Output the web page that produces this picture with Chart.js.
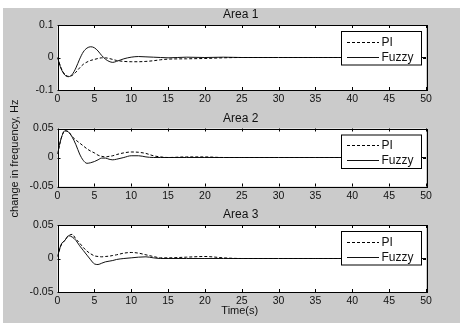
<!DOCTYPE html>
<html><head><meta charset="utf-8">
<script src="https://cdn.jsdelivr.net/npm/chart.js@4"></script>
<style>
html,body{margin:0;padding:0;background:#fff;}
#wrap{position:relative;width:460px;height:323px;overflow:hidden;}
#bg{position:absolute;left:3px;top:8px;right:0;bottom:0;background:#cbcbcb;}
canvas{position:absolute;left:0;top:0;}
</style></head><body>
<div id="wrap"><div id="bg"></div>
<canvas id="c1" width="460" height="323"></canvas>
<canvas id="c2" width="460" height="323"></canvas>
<canvas id="c3" width="460" height="323"></canvas>
</div>
<script>
// ---- data ----
const timeS = [0,0.5,1,1.5,2,2.5,3,3.5,4,4.5,5,5.5,6,6.5,7,7.5,8,9,10,11,12,13,14,15,17.5,20,22.5,25,30,35,40,45,50];
const area1PI    = [0,-0.033,-0.052,-0.058,-0.055,-0.045,-0.032,-0.021,-0.014,-0.009,-0.006,-0.003,-0.001,-0.001,-0.003,-0.006,-0.009,-0.012,-0.013,-0.013,-0.012,-0.010,-0.007,-0.005,-0.004,-0.003,-0.001,0,0,0,0,0,0];
const area1Fuzzy = [0,-0.035,-0.054,-0.059,-0.052,-0.032,-0.005,0.017,0.029,0.033,0.030,0.020,0.006,-0.005,-0.012,-0.015,-0.012,-0.004,0.001,0.003,0.002,0.001,0,-0.001,0.001,0,0.001,0,0,0,0,0,0];
const area2PI    = [0.006,0.033,0.046,0.044,0.036,0.030,0.025,0.020,0.015,0.011,0.008,0.004,0.002,0.001,0.002,0.003,0.005,0.008,0.0095,0.009,0.007,0.003,0.001,0,0.001,0.001,0,0,0,0,0,0,0];
const area2Fuzzy = [0.006,0.033,0.046,0.044,0.035,0.022,0.006,-0.005,-0.010,-0.009,-0.007,-0.004,-0.001,-0.001,-0.003,-0.004,-0.003,0,0.003,0.003,0.001,0,0,0,0,0,0,0,0,0,0,0,0];
const area3PI    = [0.003,0.020,0.027,0.034,0.036,0.029,0.023,0.0165,0.011,0.007,0.004,0.003,0.0025,0.003,0.0035,0.0045,0.0055,0.008,0.009,0.008,0.0055,0.003,0.001,0.001,0.002,0.003,0.001,0,0,0,0,0,0];
const area3Fuzzy = [0.003,0.021,0.027,0.034,0.032,0.027,0.019,0.012,0.005,-0.002,-0.008,-0.009,-0.007,-0.005,-0.004,-0.003,-0.0015,0,0.001,0.002,0.0025,0.001,0,0,0,0,0,0,0,0,0,0,0];
const xTicks = [0,5,10,15,20,25,30,35,40,45,50];
const yTicksArea1 = [-0.1,0,0.1];
const yTicksArea23 = [-0.05,0,0.05];
const areaTitles = ['Area 1','Area 2','Area 3'];
const seriesNames = ['PI','Fuzzy'];
const yAxisLabel = 'change in frequency, Hz';
const xAxisLabel = 'Time(s)';

const FONT = '"Liberation Sans", Arial, sans-serif';
const TEXT = '#111';
const panels = [
  {id:'c1', pi:area1PI, fz:area1Fuzzy, yt:yTicksArea1, top:25, bottom:90},
  {id:'c2', pi:area2PI, fz:area2Fuzzy, yt:yTicksArea23, top:128.5, bottom:186.5},
  {id:'c3', pi:area3PI, fz:area3Fuzzy, yt:yTicksArea23, top:225, bottom:292}
];
const PLOT_LEFT = 57.5, PLOT_RIGHT = 426, XAXIS_H = 20;

function pts(arr){ return timeS.map((t,i)=>({x:t,y:arr[i]})); }

const framePlugin = {
  id:'frame',
  beforeDraw(chart){
    const ca = chart.chartArea, ctx = chart.ctx;
    ctx.save(); ctx.fillStyle = '#fff';
    ctx.fillRect(ca.left, ca.top, ca.right-ca.left, ca.bottom-ca.top);
    ctx.restore();
  },
  afterDatasetsDraw(chart, args, opts){
    const ca = chart.chartArea, ctx = chart.ctx;
    const xs = chart.scales.x, ys = chart.scales.y;
    ctx.save();
    ctx.strokeStyle = '#000'; ctx.lineWidth = 1; ctx.setLineDash([]);
    // tick marks (inward)
    ctx.beginPath();
    xTicks.forEach(v=>{
      const p = Math.round(xs.getPixelForValue(v))+0.5;
      ctx.moveTo(p, ca.bottom); ctx.lineTo(p, ca.bottom-3);
      ctx.moveTo(p, ca.top); ctx.lineTo(p, ca.top+3);
    });
    opts.yt.forEach(v=>{
      const p = Math.round(ys.getPixelForValue(v))+0.5;
      ctx.moveTo(ca.left, p); ctx.lineTo(ca.left+3, p);
      ctx.moveTo(ca.right, p); ctx.lineTo(ca.right-3, p);
    });
    ctx.stroke();
    // legend
    const bx = ca.right - 84.5, by = ca.top + 6.5, bw = 80, bh = 33.5;
    ctx.fillStyle = '#fff'; ctx.fillRect(bx, by, bw, bh);
    ctx.strokeRect(bx, by, bw, bh);
    const ds = chart.data.datasets;
    ds.forEach((d,i)=>{
      const ly = Math.round(by + 10 + i*15) + 0.5;
      ctx.beginPath();
      ctx.setLineDash(d.borderDash || []);
      ctx.strokeStyle = d.borderColor; ctx.lineWidth = 1;
      ctx.moveTo(bx+5.5, ly); ctx.lineTo(bx+37.5, ly); ctx.stroke();
      ctx.setLineDash([]);
      ctx.fillStyle = TEXT; ctx.font = '12px ' + FONT;
      ctx.textAlign = 'left'; ctx.textBaseline = 'middle';
      ctx.fillText(d.label, bx+40, ly+0.5);
    });
    // frame box
    ctx.strokeStyle = '#000';
    ctx.strokeRect(Math.round(ca.left)+0.5, Math.round(ca.top)+0.5, Math.round(ca.right-ca.left), Math.round(ca.bottom-ca.top));
    // title
    ctx.fillStyle = TEXT; ctx.font = '12px ' + FONT;
    ctx.textAlign = 'center'; ctx.textBaseline = 'middle';
    ctx.fillText(opts.title, (ca.left+ca.right)/2 - 1, ca.top - 10);
    ctx.font = '11px ' + FONT;
    if (opts.ylabel){
      ctx.save();
      ctx.translate(15, (panels[0].top + panels[2].bottom)/2);
      ctx.rotate(-Math.PI/2);
      ctx.fillText(opts.ylabel, 0, 0);
      ctx.restore();
    }
    if (opts.xlabel){
      ctx.fillText(opts.xlabel, (ca.left+ca.right)/2 - 2, ca.bottom + 19);
    }
    ctx.restore();
  }
};

panels.forEach((p, idx)=>{
  new Chart(document.getElementById(p.id), {
    type:'line',
    data:{ datasets:[
      {label:seriesNames[0], data:pts(p.pi), borderColor:'#000', borderWidth:1, borderDash:[3,2], pointRadius:0, cubicInterpolationMode:'monotone', fill:false},
      {label:seriesNames[1], data:pts(p.fz), borderColor:'#111', borderWidth:1, pointRadius:0, cubicInterpolationMode:'monotone', fill:false}
    ]},
    options:{
      responsive:false, animation:false, devicePixelRatio:1,
      layout:{ padding:{ left:0, right:460-PLOT_RIGHT, top:p.top, bottom:323-p.bottom-XAXIS_H } },
      plugins:{ legend:{display:false}, tooltip:{enabled:false},
        frame:{ title:areaTitles[idx], yt:p.yt, ylabel: idx===1 ? yAxisLabel : null, xlabel: idx===2 ? xAxisLabel : null } },
      events:[],
      scales:{
        x:{ type:'linear', min:0, max:50,
          afterBuildTicks: s=>{ s.ticks = xTicks.map(v=>({value:v})); },
          afterFit: s=>{ s.height = XAXIS_H; },
          grid:{display:false, drawTicks:false}, border:{display:false},
          ticks:{ color:TEXT, font:{family:FONT, size:10.5}, padding:3, maxRotation:0, autoSkip:false, callback:v=>String(v) } },
        y:{ type:'linear', min:p.yt[0], max:p.yt[p.yt.length-1],
          afterBuildTicks: s=>{ s.ticks = p.yt.map(v=>({value:v})); },
          afterFit: s=>{ s.width = PLOT_LEFT; },
          grid:{display:false, drawTicks:false}, border:{display:false},
          ticks:{ color:TEXT, font:{family:FONT, size:10.5}, padding:4, autoSkip:false, callback:v=>String(v) } }
      }
    },
    plugins:[framePlugin]
  });
});
</script>
</body></html>
